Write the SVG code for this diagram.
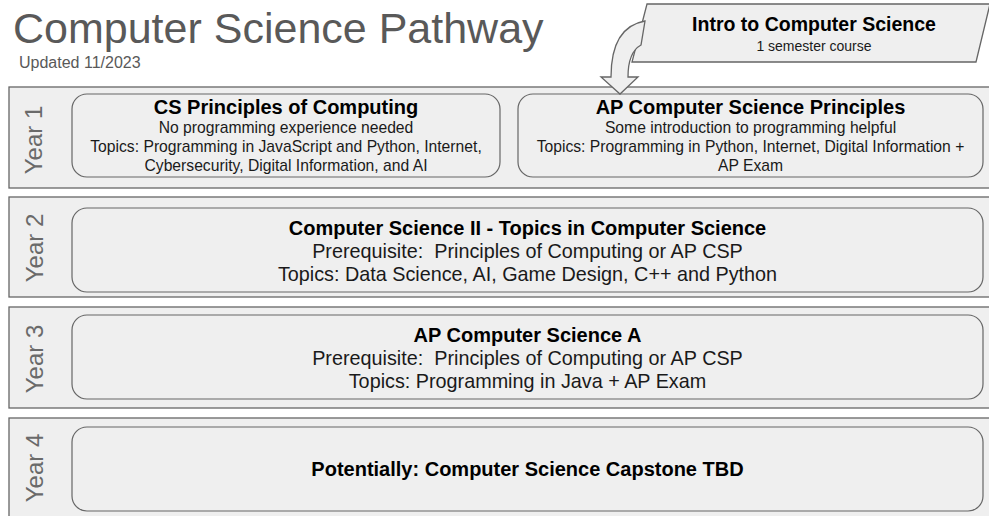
<svg xmlns="http://www.w3.org/2000/svg" width="989" height="516" viewBox="0 0 989 516">
<style>
.band{fill:#efefef;stroke:#666666;stroke-width:1.3}
.box{fill:#efefef;stroke:#666666;stroke-width:1.2}
.yr{font-family:"Liberation Sans",Arial,sans-serif;font-size:24px;fill:#6a6a6a;text-anchor:middle}
.t{font-family:"Liberation Sans",Arial,sans-serif;font-weight:bold;fill:#000;text-anchor:middle}
.s{font-family:"Liberation Sans",Arial,sans-serif;fill:#1a1a1a;text-anchor:middle}
</style>
<rect width="989" height="516" fill="#ffffff"/>
<g id="header">
<text x="13" y="43" font-family="Liberation Sans,Arial,sans-serif" font-size="43" fill="#595959">Computer Science Pathway</text>
<text x="19" y="68" font-family="Liberation Sans,Arial,sans-serif" font-size="16" fill="#595959">Updated 11/2023</text>
</g>
<g id="year1">
<rect class="band" x="9" y="87" width="990" height="101"/>
<text class="yr" transform="translate(42,140) rotate(-90)">Year 1</text>
</g>
<g id="year2">
<rect class="band" x="9" y="197" width="990" height="100"/>
<text class="yr" transform="translate(43,248) rotate(-90)">Year 2</text>
</g>
<g id="year3">
<rect class="band" x="9" y="307" width="990" height="101"/>
<text class="yr" transform="translate(43,359) rotate(-90)">Year 3</text>
</g>
<g id="year4">
<rect class="band" x="9" y="418" width="990" height="110"/>
<text class="yr" transform="translate(43,468) rotate(-90)">Year 4</text>
</g>
<g id="cs-principles">
<rect class="box" x="72" y="94" width="428" height="83" rx="15"/>
<text class="t" x="286" y="114" font-size="20">CS Principles of Computing</text>
<text class="s" x="286" y="133" font-size="15.7">No programming experience needed</text>
<text class="s" x="286" y="152" font-size="15.7">Topics: Programming in JavaScript and Python, Internet,</text>
<text class="s" x="286" y="171" font-size="15.7">Cybersecurity, Digital Information, and AI</text>
</g>
<g id="ap-csp">
<rect class="box" x="518" y="94" width="465" height="83" rx="15"/>
<text class="t" x="750.5" y="114" font-size="20">AP Computer Science Principles</text>
<text class="s" x="750.5" y="133" font-size="15.7">Some introduction to programming helpful</text>
<text class="s" x="750.5" y="152" font-size="15.7">Topics: Programming in Python, Internet, Digital Information +</text>
<text class="s" x="750.5" y="171" font-size="15.7">AP Exam</text>
</g>
<g id="cs2">
<rect class="box" x="72" y="208" width="911" height="84" rx="15"/>
<text class="t" x="527.5" y="235" font-size="20">Computer Science II - Topics in Computer Science</text>
<text class="s" x="527.5" y="258" font-size="19.8" xml:space="preserve">Prerequisite:  Principles of Computing or AP CSP</text>
<text class="s" x="527.5" y="281" font-size="19.8">Topics: Data Science, AI, Game Design, C++ and Python</text>
</g>
<g id="ap-csa">
<rect class="box" x="72" y="315" width="911" height="84" rx="15"/>
<text class="t" x="527.5" y="342" font-size="20">AP Computer Science A</text>
<text class="s" x="527.5" y="365" font-size="19.8" xml:space="preserve">Prerequisite:  Principles of Computing or AP CSP</text>
<text class="s" x="527.5" y="388" font-size="19.8">Topics: Programming in Java + AP Exam</text>
</g>
<g id="capstone">
<rect class="box" x="72" y="427" width="911" height="84" rx="15"/>
<text class="t" x="527.5" y="476" font-size="20">Potentially: Computer Science Capstone TBD</text>
</g>
<g id="intro">
<polygon class="band" points="647,4 990,4 976,62 632,62"/>
<text class="t" x="814" y="31" font-size="19.5">Intro to Computer Science</text>
<text class="s" x="814" y="51" font-size="14">1 semester course</text>
</g>
<g id="connectors">
<path class="band" d="M645,21 C622,25 611,44 611,77 L601,77 L620,94 L638,77 L628,77 C628,60 632,50 641,45 Z"/>
</g>
</svg>
